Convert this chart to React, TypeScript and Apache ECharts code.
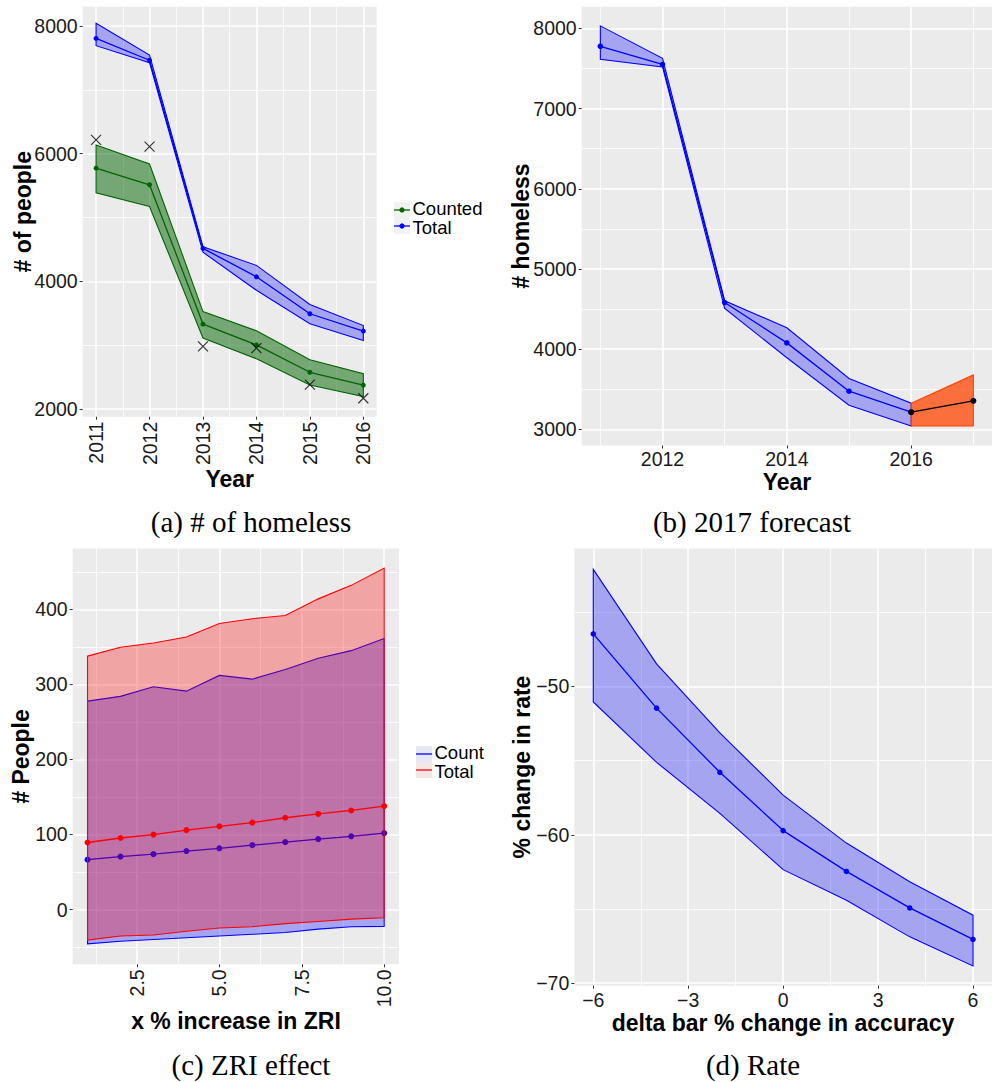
import React, { useEffect, useRef } from 'react';
import * as echarts from 'echarts';

// ---------- (a) # of homeless ----------
const yearsA = [2011, 2012, 2013, 2014, 2015, 2016];
const countedMid = [5772, 5512, 3329, 3003, 2574, 2374];
const countedHi = [6135, 5837, 3525, 3225, 2770, 2553];
const countedLo = [5387, 5171, 3111, 2785, 2374, 2195];
const totalMidA = [7805, 7463, 4515, 4070, 3491, 3220];
const totalHiA = [8044, 7545, 4541, 4249, 3637, 3306];
const totalLoA = [7691, 7426, 4455, 3859, 3333, 3073];
const observedA = [6217, 6108, 2980, 2954, 2380, 2167];
const aXMajor = [2011, 2012, 2013, 2014, 2015, 2016];
const aXMinor = [2011.5, 2012.5, 2013.5, 2014.5, 2015.5];
const aYMajor = [2000, 4000, 6000, 8000];
const aYMinor = [3000, 5000, 7000];

// ---------- (b) 2017 forecast ----------
const yearsB = [2011, 2012, 2013, 2014, 2015, 2016];
const midB = [7776, 7549, 4582, 4079, 3477, 3215];
const hiB = [8030, 7626, 4604, 4268, 3636, 3327];
const loB = [7613, 7518, 4509, 3894, 3301, 3043];
const yearsF = [2016, 2017];
const midF = [3215, 3357];
const hiF = [3327, 3679];
const loF = [3043, 3043];
const bXMajor = [2012, 2014, 2016];
const bXMinor = [2011, 2013, 2015, 2017];
const bYMajor = [3000, 4000, 5000, 6000, 7000, 8000];
const bYMinor = [3500, 4500, 5500, 6500, 7500];

// ---------- (c) ZRI effect ----------
const zri = [1, 2, 3, 4, 5, 6, 7, 8, 9, 10];
const countMid = [66.4, 70.6, 73.8, 77.9, 81.6, 85.7, 89.8, 93.9, 97.6, 101.7];
const countHi = [277.7, 284.1, 296.9, 291.0, 312.0, 307.0, 319.8, 334.9, 345.0, 361.1];
const countLo = [-45.8, -42.2, -39.9, -37.6, -35.3, -33.0, -30.7, -26.1, -22.9, -22.5];
const totalMidC = [89.3, 95.3, 99.9, 105.8, 110.9, 115.9, 122.3, 127.4, 132.0, 137.9];
const totalHiC = [337.7, 349.6, 355.1, 363.3, 381.2, 387.6, 391.8, 414.0, 432.0, 455.0];
const totalLoC = [-40.8, -35.3, -33.9, -28.9, -24.7, -22.9, -18.8, -16.0, -12.8, -11.0];
const cXMajor = [2.5, 5, 7.5, 10];
const cXMinor = [1.25, 3.75, 6.25, 8.75];
const cYMajor = [0, 100, 200, 300, 400];
const cYMinor = [-50, 50, 150, 250, 350, 450];

// ---------- (d) Rate ----------
const delta = [-6, -4, -2, 0, 2, 4, 6];
const rateMid = [-46.47, -51.47, -55.79, -59.72, -62.47, -64.93, -67.05];
const rateHi = [-42.12, -48.49, -53.14, -57.33, -60.56, -63.16, -65.42];
const rateLo = [-51.05, -55.12, -58.56, -62.35, -64.42, -66.88, -68.84];
const dXMajor = [-6, -3, 0, 3, 6];
const dXMinor = [-4.5, -1.5, 1.5, 4.5];
const dYMajor = [-70, -60, -50];
const dYMinor = [-65, -55, -45];

const SANS = 'Liberation Sans';
const TICK_SIZE = 19.5;
const LEGEND_SIZE = 18.5;
const TITLE_SIZE = 23;

const minusFmt = (v: number) => (v < 0 ? '\u2212' + Math.abs(v) : String(v));

function axisPair(kind: 'x' | 'y', gridIndex: number, min: number, max: number, major: number[], minor: number[], fmt: (v: number) => string, rotate = 0, margin = 5) {
  const position = kind === 'x' ? 'bottom' : 'left';
  return [
    {
      type: 'value', gridIndex, min, max, position,
      axisLine: { show: false, onZero: false },
      axisTick: { show: true, length: 3, lineStyle: { color: '#333333', width: 1 }, customValues: major },
      axisLabel: { show: true, customValues: major, formatter: fmt, rotate, margin, color: '#1A1A1A', fontSize: TICK_SIZE, lineHeight: 19, fontFamily: SANS },
      splitLine: { show: true, lineStyle: { color: '#FFFFFF', width: 1.6 } },
      minorTick: { show: false }, minorSplitLine: { show: false },
    },
    {
      type: 'value', gridIndex, min, max, position,
      axisLine: { show: false, onZero: false },
      axisTick: { show: false, customValues: minor },
      axisLabel: { show: false, customValues: minor },
      splitLine: { show: true, lineStyle: { color: '#FFFFFF', width: 0.8 } },
      minorTick: { show: false }, minorSplitLine: { show: false },
    },
  ];
}

function band(xs: number[], lo: number[], hi: number[], axis: number, fill: string, stroke: string, z: number) {
  return {
    type: 'custom', xAxisIndex: axis, yAxisIndex: axis, z, silent: true, clip: false,
    data: xs.map((x, i) => [x, lo[i], hi[i]]),
    encode: { x: 0, y: [1, 2] },
    renderItem: (params: any, api: any) => {
      if (params.dataIndex !== 0) return null;
      const top = xs.map((x, i) => api.coord([x, hi[i]]));
      const bot = xs.map((x, i) => api.coord([x, lo[i]])).reverse();
      return { type: 'polygon', shape: { points: top.concat(bot) }, style: { fill, stroke, lineWidth: 1.1 } };
    },
  };
}

function line(xs: number[], ys: number[], axis: number, color: string, size: number, z: number) {
  return {
    type: 'line', xAxisIndex: axis, yAxisIndex: axis, z, silent: true,
    data: xs.map((x, i) => [x, ys[i]]),
    symbol: 'circle', symbolSize: size, showSymbol: true,
    lineStyle: { color, width: 1.3 }, itemStyle: { color },
  };
}

function txt(x: number, y: number, text: string, size: number, o: any = {}) {
  const align = o.align || 'center';
  return {
    type: 'text', x, y, rotation: o.rot || 0, silent: true,
    style: {
      text, fontSize: size, lineHeight: o.lh || size, fontFamily: o.family || SANS, fontWeight: o.bold ? 'bold' : 'normal',
      fill: o.color || '#000000', textAlign: align, align, textVerticalAlign: 'middle', verticalAlign: 'middle',
    },
  };
}

function buildOption() {
  const grids = [
    { left: 82.7, top: 6.7, width: 294, height: 410 },
    { left: 581.7, top: 6.7, width: 410.3, height: 438.8 },
    { left: 72.7, top: 548.6, width: 326.3, height: 415.7 },
    { left: 574.3, top: 548.6, width: 417.7, height: 437.1 },
  ].map((g) => ({ ...g, show: true, backgroundColor: '#EBEBEB', borderWidth: 0, containLabel: false, outerBoundsMode: 'none' }));

  const xAxis = [
    ...axisPair('x', 0, 2010.75, 2016.25, aXMajor, aXMinor, (v) => String(v), 90),
    ...axisPair('x', 1, 2010.7, 2017.3, bXMajor, bXMinor, (v) => String(v), 0, 4),
    ...axisPair('x', 2, 0.55, 10.45, cXMajor, cXMinor, (v) => v.toFixed(1), 90),
    ...axisPair('x', 3, -6.6, 6.6, dXMajor, dXMinor, minusFmt),
  ];
  const yAxis = [
    ...axisPair('y', 0, 1878, 8302, aYMajor, aYMinor, (v) => String(v)),
    ...axisPair('y', 1, 2800, 8269, bYMajor, bYMinor, (v) => String(v)),
    ...axisPair('y', 2, -73, 481, cYMajor, cYMinor, (v) => String(v)),
    ...axisPair('y', 3, -70.17, -40.72, dYMajor, dYMinor, minusFmt),
  ];

  const series: any[] = [
    // (a)
    band(yearsA, countedLo, countedHi, 0, 'rgba(0,100,0,0.5)', '#006400', 2),
    line(yearsA, countedMid, 0, '#006400', 5, 3),
    band(yearsA, totalLoA, totalHiA, 0, 'rgba(0,0,255,0.3)', '#0000FF', 4),
    line(yearsA, totalMidA, 0, '#0000FF', 5, 5),
    {
      type: 'scatter', xAxisIndex: 0, yAxisIndex: 0, z: 6, silent: true,
      data: yearsA.map((x, i) => [x, observedA[i]]),
      symbol: 'path://M0,0L10,10M10,0L0,10', symbolSize: 10,
      itemStyle: { color: 'rgba(0,0,0,0)', borderColor: '#000000', borderWidth: 1.1 },
    },
    // (b)
    band(yearsB, loB, hiB, 2, 'rgba(0,0,255,0.3)', '#0000FF', 2),
    line(yearsB, midB, 2, '#0000FF', 5.5, 3),
    band(yearsF, loF, hiF, 2, 'rgba(255,69,0,0.75)', '#FF4500', 4),
    line(yearsF, midF, 2, '#000000', 6, 5),
    // (c)
    band(zri, countLo, countHi, 4, 'rgba(0,0,255,0.3)', '#0000FF', 2),
    line(zri, countMid, 4, '#0000FF', 6, 3),
    band(zri, totalLoC, totalHiC, 4, 'rgba(255,0,0,0.3)', '#FF0000', 4),
    line(zri, totalMidC, 4, '#FF0000', 6, 5),
    // (d)
    band(delta, rateLo, rateHi, 6, 'rgba(0,0,255,0.3)', '#0000FF', 2),
    line(delta, rateMid, 6, '#0000FF', 5.5, 3),
  ];

  const R = Math.PI / 2;
  const elements: any[] = [
    // axis titles
    txt(22.5, 211.7, '# of people', TITLE_SIZE, { bold: true, rot: R, lh: 20 }),
    txt(229.7, 479, 'Year', TITLE_SIZE, { bold: true, lh: 18 }),
    txt(521, 226, '# homeless', TITLE_SIZE, { bold: true, rot: R, lh: 20 }),
    txt(787, 482, 'Year', TITLE_SIZE, { bold: true, lh: 18 }),
    txt(21, 756.5, '# People', TITLE_SIZE, { bold: true, rot: R, lh: 20 }),
    txt(236, 1021, 'x % increase in ZRI', TITLE_SIZE, { bold: true, lh: 18 }),
    txt(522, 767, '% change in rate', TITLE_SIZE, { bold: true, rot: R, lh: 20 }),
    txt(783, 1022.5, 'delta bar % change in accuracy', TITLE_SIZE, { bold: true, lh: 18 }),
    // captions
    txt(251, 522, '(a) # of homeless', 29, { family: 'Liberation Serif', lh: 26 }),
    txt(752, 522, '(b) 2017 forecast', 29, { family: 'Liberation Serif', lh: 26 }),
    txt(251, 1065, '(c) ZRI effect', 29, { family: 'Liberation Serif', lh: 26 }),
    txt(753, 1065, '(d) Rate', 29, { family: 'Liberation Serif', lh: 26 }),
    // legend (a)
    { type: 'rect', silent: true, shape: { x: 394, y: 202, width: 16, height: 16 }, style: { fill: '#F2F2F2' } },
    { type: 'rect', silent: true, shape: { x: 394, y: 218, width: 16, height: 16 }, style: { fill: '#F2F2F2' } },
    { type: 'line', silent: true, shape: { x1: 394, y1: 210, x2: 410, y2: 210 }, style: { stroke: '#006400', lineWidth: 1.3 } },
    { type: 'circle', silent: true, shape: { cx: 402, cy: 210, r: 2.6 }, style: { fill: '#006400' } },
    { type: 'line', silent: true, shape: { x1: 394, y1: 226, x2: 410, y2: 226 }, style: { stroke: '#0000FF', lineWidth: 1.3 } },
    { type: 'circle', silent: true, shape: { cx: 402, cy: 226, r: 2.6 }, style: { fill: '#0000FF' } },
    txt(412.5, 208.5, 'Counted', LEGEND_SIZE, { align: 'left', lh: 15 }),
    txt(412.5, 227.5, 'Total', LEGEND_SIZE, { align: 'left', lh: 15 }),
    // legend (c)
    { type: 'rect', silent: true, shape: { x: 416, y: 746, width: 16, height: 16 }, style: { fill: '#E6E6F4' } },
    { type: 'rect', silent: true, shape: { x: 416, y: 762, width: 16, height: 16 }, style: { fill: '#F4E6E6' } },
    { type: 'line', silent: true, shape: { x1: 416, y1: 754, x2: 432, y2: 754 }, style: { stroke: '#0000FF', lineWidth: 1.3 } },
    { type: 'line', silent: true, shape: { x1: 416, y1: 770, x2: 432, y2: 770 }, style: { stroke: '#FF0000', lineWidth: 1.3 } },
    txt(434.5, 752.5, 'Count', LEGEND_SIZE, { align: 'left', lh: 15 }),
    txt(434.5, 771.5, 'Total', LEGEND_SIZE, { align: 'left', lh: 15 }),
  ];

  return {
    animation: false,
    backgroundColor: '#FFFFFF',
    grid: grids,
    xAxis,
    yAxis,
    series,
    graphic: { elements },
  };
}

export default function App() {
  const ref = useRef<HTMLDivElement>(null);
  useEffect(() => {
    if (!ref.current) return;
    const chart = echarts.init(ref.current, null, { renderer: 'svg' });
    chart.setOption(buildOption() as any);
    return () => chart.dispose();
  }, []);
  return <div ref={ref} style={{ position: 'absolute', left: 0, top: 0, width: 992, height: 1082 }} />;
}
